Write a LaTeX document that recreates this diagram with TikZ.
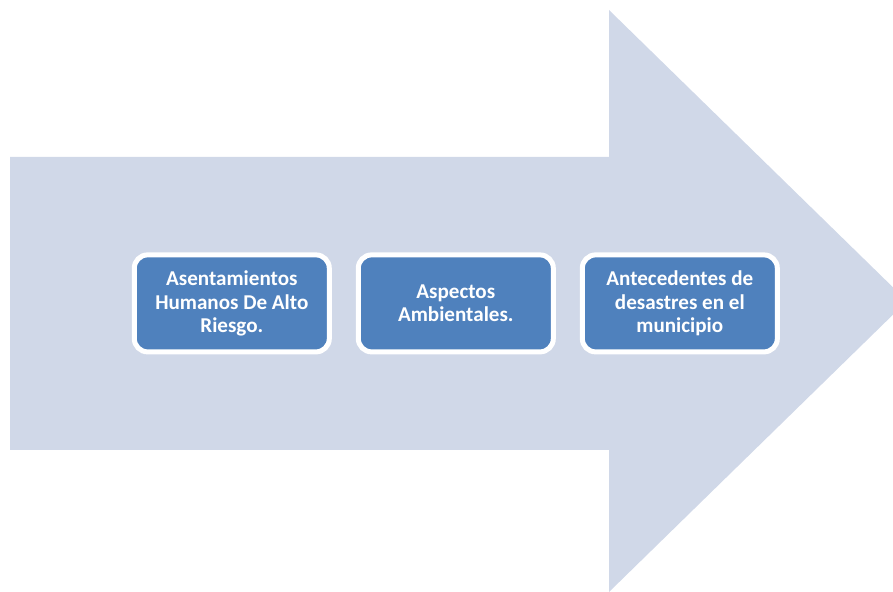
\documentclass[tikz,border=0pt]{standalone}
\usepackage{fontspec}
\setmainfont{Carlito}
\definecolor{arrowfill}{RGB}{208, 216, 232}
\definecolor{boxblue}{RGB}{79, 129, 189}
\usetikzlibrary{positioning}

\begin{document}
\begin{tikzpicture}[
            x=0.03cm, y=0.03cm,
            stage/.style={draw=white, fill=boxblue, line width=0.15cm, rounded corners=0.4cm,
                          text=white, font=\fontsize{18}{20}\selectfont\bfseries, align=center,
                          minimum width=5.85cm, minimum height=2.91cm, outer sep=0pt},
            node distance=0.87cm
          ]
          \useasboundingbox (0,0) rectangle (893,592);
          \clip (0,0) rectangle (893,592);
          % big arrow
          \fill[arrowfill] (10,142) -- (609,142) -- (609,0) -- (907,291)
            -- (609,582) -- (609,435) -- (10,435) -- cycle;
          % stages
          \node[stage] (asent) at (231.8,288.6) {Asentamientos\\Humanos De Alto\\Riesgo.};
          \node[stage] (ambien) [right=of asent] {Aspectos\\Ambientales.};
          \node[stage] (antec) [right=of ambien] {Antecedentes de\\desastres en el\\municipio};
        \end{tikzpicture}
\end{document}
